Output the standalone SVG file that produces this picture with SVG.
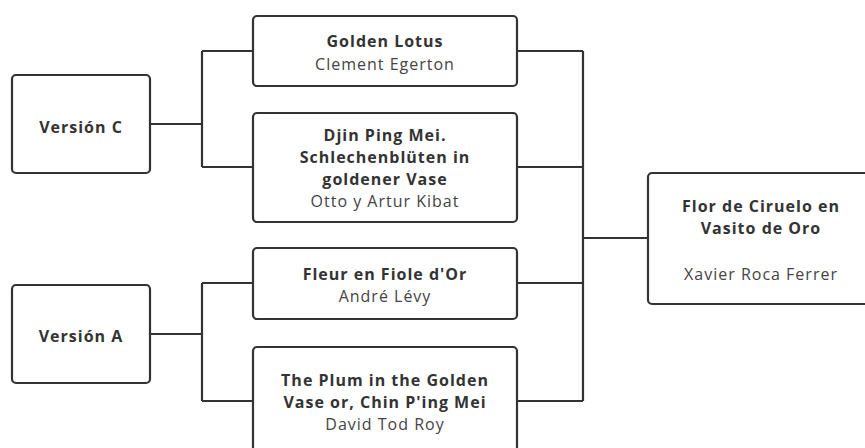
<svg xmlns="http://www.w3.org/2000/svg" width="865" height="448" viewBox="0 0 865 448">
<style>
.box{fill:#fff;stroke:#333;stroke-width:2.2}
.ln{fill:none;stroke:#333;stroke-width:2.2}
text{font-family:"Open Sans","Noto Sans","DejaVu Sans",sans-serif;font-size:16px;letter-spacing:1px;text-anchor:middle}
.b{font-weight:bold;fill:#333}
.r{fill:#444}
</style>
<rect width="865" height="448" fill="#fff"/>
<g id="connectors">
<path class="ln" d="M150,124H202M202,51V167M202,51H253M202,167H253"/>
<path class="ln" d="M150,334H202M202,283V401M202,283H253M202,401H253"/>
<path class="ln" d="M517,51H583M517,167H583M517,283H583M517,401H583M583,51V401M583,238H648"/>
</g>
<g id="versionC">
<rect class="box" x="12" y="75" width="138" height="98" rx="4"/>
<text class="b" x="81" y="133">Versión C</text>
</g>
<g id="versionA">
<rect class="box" x="12" y="285" width="138" height="98" rx="4"/>
<text class="b" x="81" y="342">Versión A</text>
</g>
<g id="goldenLotus">
<rect class="box" x="253" y="16" width="264" height="70" rx="4"/>
<text class="b" x="385" y="47">Golden Lotus</text>
<text class="r" x="385" y="70">Clement Egerton</text>
</g>
<g id="djin">
<rect class="box" x="253" y="113" width="264" height="109" rx="4"/>
<text class="b" x="385" y="141">Djin Ping Mei.</text>
<text class="b" x="385" y="163">Schlechenblüten in</text>
<text class="b" x="385" y="185">goldener Vase</text>
<text class="r" x="385" y="207">Otto y Artur Kibat</text>
</g>
<g id="fleur">
<rect class="box" x="253" y="248" width="264" height="71" rx="4"/>
<text class="b" x="385" y="280">Fleur en Fiole d'Or</text>
<text class="r" x="385" y="302">André Lévy</text>
</g>
<g id="plum">
<rect class="box" x="253" y="347" width="264" height="108" rx="4"/>
<text class="b" x="385" y="386">The Plum in the Golden</text>
<text class="b" x="385" y="408">Vase or, Chin P'ing Mei</text>
<text class="r" x="385" y="430">David Tod Roy</text>
</g>
<g id="flor">
<rect class="box" x="648" y="173" width="226" height="131" rx="4"/>
<text class="b" x="761" y="212">Flor de Ciruelo en</text>
<text class="b" x="761" y="234">Vasito de Oro</text>
<text class="r" x="761" y="280">Xavier Roca Ferrer</text>
</g>
</svg>
